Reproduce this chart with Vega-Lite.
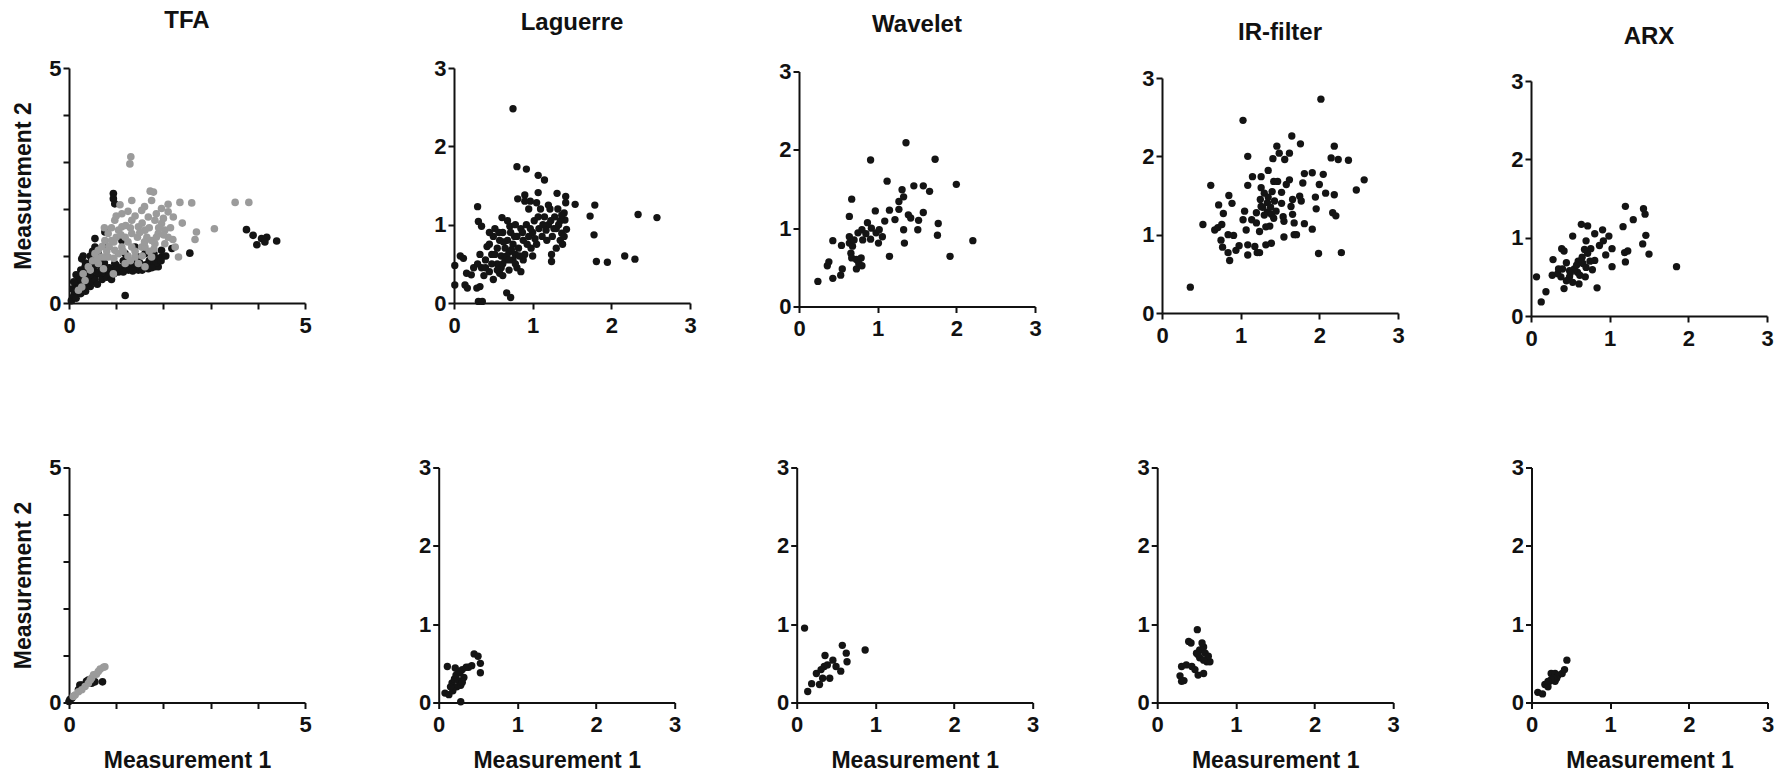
{
  "$schema": "https://vega.github.io/schema/vega-lite/v6.json",
  "background": "white",
  "padding": {"left": 12, "top": 8, "right": 5, "bottom": 5},
  "config": {
    "view": {"stroke": null},
    "font": "Liberation Sans",
    "axis": {"grid": false, "domainColor": "#111111", "domainWidth": 2, "tickColor": "#111111", "tickWidth": 2, "tickSize": 6, "labelFont": "Liberation Sans", "labelFontSize": 22, "labelFontWeight": "bold", "labelColor": "#111111", "labelFlush": false, "labelOverlap": false, "titleFont": "Liberation Sans", "titleFontSize": 23, "titleFontWeight": "bold", "titleColor": "#111111"},
    "axisX": {"labelPadding": 6, "titlePadding": 14},
    "axisY": {"labelPadding": 2, "titlePadding": 13},
    "title": {"font": "Liberation Sans", "fontSize": 24, "fontWeight": "bold", "color": "#111111", "frame": "group", "anchor": "middle", "offset": 24.5, "baseline": "alphabetic"}
  },
  "datasets": {
    "pts": [
      {"p":"T1","g":"a","x":3.76,"y":1.56},{"p":"T1","g":"a","x":3.9,"y":1.44},{"p":"T1","g":"a","x":3.98,"y":1.24},{"p":"T1","g":"a","x":4.08,"y":1.37},{"p":"T1","g":"a","x":4.19,"y":1.4},{"p":"T1","g":"a","x":4.4,"y":1.32},{"p":"T1","g":"a","x":4.15,"y":1.3},
      {"p":"T1","g":"a","x":2.56,"y":1.06},{"p":"T1","g":"a","x":1.19,"y":0.16},{"p":"T1","g":"a","x":0.94,"y":2.33},{"p":"T1","g":"a","x":0.94,"y":2.22},{"p":"T1","g":"a","x":0.97,"y":2.11},{"p":"T1","g":"a","x":0.76,"y":1.51},{"p":"T1","g":"a","x":0.55,"y":1.37},{"p":"T1","g":"a","x":0.27,"y":0.94},{"p":"T1","g":"a","x":0.55,"y":1.19},{"p":"T1","g":"a","x":2.18,"y":1.16},
      {"p":"T1","g":"a","x":0.13,"y":0.2},{"p":"T1","g":"a","x":0.2,"y":0.34},{"p":"T1","g":"a","x":0.34,"y":0.48},{"p":"T1","g":"a","x":0.48,"y":0.55},{"p":"T1","g":"a","x":0.62,"y":0.62},{"p":"T1","g":"a","x":0.83,"y":0.62},{"p":"T1","g":"a","x":1.05,"y":0.66},{"p":"T1","g":"a","x":1.26,"y":0.7},{"p":"T1","g":"a","x":1.47,"y":0.7},{"p":"T1","g":"a","x":1.68,"y":0.73},{"p":"T1","g":"a","x":1.82,"y":0.77},{"p":"T1","g":"a","x":1.96,"y":0.98},{"p":"T1","g":"a","x":1.96,"y":1.12},{"p":"T1","g":"a","x":1.89,"y":0.77},
      {"p":"T1","g":"a","x":0.2,"y":0.55},{"p":"T1","g":"a","x":0.34,"y":0.77},{"p":"T1","g":"a","x":0.48,"y":0.91},{"p":"T1","g":"a","x":0.62,"y":1.05},{"p":"T1","g":"a","x":0.83,"y":1.19},{"p":"T1","g":"a","x":0.69,"y":0.77},{"p":"T1","g":"a","x":0.97,"y":0.84},{"p":"T1","g":"a","x":1.19,"y":1.05},{"p":"T1","g":"a","x":1.47,"y":0.98},{"p":"T1","g":"a","x":1.61,"y":1.05},{"p":"T1","g":"a","x":1.4,"y":1.19},{"p":"T1","g":"a","x":1.12,"y":1.33},
      {"p":"T1","g":"a","x":0.05,"y":0.05},{"p":"T1","g":"a","x":0.1,"y":0.15},{"p":"T1","g":"a","x":0.15,"y":0.1},{"p":"T1","g":"a","x":0.25,"y":0.2},{"p":"T1","g":"a","x":0.3,"y":0.3},{"p":"T1","g":"a","x":0.35,"y":0.25},{"p":"T1","g":"a","x":0.4,"y":0.4},{"p":"T1","g":"a","x":0.45,"y":0.35},{"p":"T1","g":"a","x":0.5,"y":0.45},{"p":"T1","g":"a","x":0.55,"y":0.5},{"p":"T1","g":"a","x":0.6,"y":0.4},{"p":"T1","g":"a","x":0.7,"y":0.5},{"p":"T1","g":"a","x":0.8,"y":0.55},{"p":"T1","g":"a","x":0.9,"y":0.5},{"p":"T1","g":"a","x":0.15,"y":0.35},{"p":"T1","g":"a","x":0.2,"y":0.45},{"p":"T1","g":"a","x":0.3,"y":0.6},{"p":"T1","g":"a","x":0.4,"y":0.65},{"p":"T1","g":"a","x":0.5,"y":0.7},{"p":"T1","g":"a","x":0.65,"y":0.8},{"p":"T1","g":"a","x":0.75,"y":0.85},{"p":"T1","g":"a","x":0.1,"y":0.45},{"p":"T1","g":"a","x":0.25,"y":0.5},{"p":"T1","g":"a","x":0.45,"y":0.6},{"p":"T1","g":"a","x":0.6,"y":0.65},{"p":"T1","g":"a","x":1.0,"y":0.8},{"p":"T1","g":"a","x":1.1,"y":0.75},{"p":"T1","g":"a","x":1.2,"y":0.8},{"p":"T1","g":"a","x":1.35,"y":0.85},{"p":"T1","g":"a","x":1.5,"y":0.85},{"p":"T1","g":"a","x":1.7,"y":0.9},{"p":"T1","g":"a","x":1.85,"y":0.95},{"p":"T1","g":"a","x":0.08,"y":0.3},{"p":"T1","g":"a","x":0.18,"y":0.25},{"p":"T1","g":"a","x":0.28,"y":0.4},{"p":"T1","g":"a","x":0.38,"y":0.55},{"p":"T1","g":"a","x":0.7,"y":0.65},{"p":"T1","g":"a","x":0.9,"y":0.7},{"p":"T1","g":"a","x":1.15,"y":0.9},{"p":"T1","g":"a","x":1.3,"y":0.78},{"p":"T1","g":"a","x":1.6,"y":0.8},{"p":"T1","g":"a","x":1.75,"y":0.85},{"p":"T1","g":"a","x":0.35,"y":0.85},{"p":"T1","g":"a","x":0.45,"y":1.0},{"p":"T1","g":"a","x":0.3,"y":1.0},{"p":"T1","g":"a","x":0.6,"y":1.15},{"p":"T1","g":"a","x":1.8,"y":1.05},{"p":"T1","g":"a","x":2.05,"y":1.0},
      {"p":"T1","g":"a","x":0.25,"y":0.7},{"p":"T1","g":"a","x":0.4,"y":0.8},{"p":"T1","g":"a","x":0.55,"y":0.8},{"p":"T1","g":"a","x":0.15,"y":0.6},{"p":"T1","g":"a","x":0.5,"y":1.1},{"p":"T1","g":"a","x":0.65,"y":0.9},{"p":"T1","g":"a","x":0.85,"y":0.75},{"p":"T1","g":"a","x":1.0,"y":0.7},{"p":"T1","g":"a","x":1.25,"y":0.75},{"p":"T1","g":"a","x":1.45,"y":0.78},{"p":"T1","g":"a","x":1.65,"y":0.82},{"p":"T1","g":"a","x":1.85,"y":0.85},{"p":"T1","g":"a","x":1.95,"y":0.9},{"p":"T1","g":"a","x":0.12,"y":0.25},{"p":"T1","g":"a","x":0.95,"y":0.62},{"p":"T1","g":"a","x":1.15,"y":0.66},{"p":"T1","g":"a","x":1.35,"y":0.68},{"p":"T1","g":"a","x":1.55,"y":0.7},{"p":"T1","g":"a","x":1.75,"y":0.75},
      {"p":"T1","g":"b","x":1.31,"y":3.11},{"p":"T1","g":"b","x":1.29,"y":2.96},{"p":"T1","g":"b","x":1.72,"y":2.38},{"p":"T1","g":"b","x":1.79,"y":2.36},{"p":"T1","g":"b","x":1.75,"y":2.18},{"p":"T1","g":"b","x":1.33,"y":2.18},{"p":"T1","g":"b","x":2.35,"y":2.14},{"p":"T1","g":"b","x":2.6,"y":2.13},{"p":"T1","g":"b","x":3.52,"y":2.14},{"p":"T1","g":"b","x":3.81,"y":2.14},{"p":"T1","g":"b","x":3.08,"y":1.58},{"p":"T1","g":"b","x":2.7,"y":1.51},{"p":"T1","g":"b","x":2.67,"y":1.35},{"p":"T1","g":"b","x":2.25,"y":1.19},{"p":"T1","g":"b","x":2.32,"y":0.98},{"p":"T1","g":"b","x":1.08,"y":2.09},{"p":"T1","g":"b","x":1.12,"y":1.9},{"p":"T1","g":"b","x":1.54,"y":1.97},{"p":"T1","g":"b","x":1.96,"y":2.01},{"p":"T1","g":"b","x":2.1,"y":1.94},{"p":"T1","g":"b","x":2.21,"y":1.83},{"p":"T1","g":"b","x":0.97,"y":1.76},{"p":"T1","g":"b","x":1.33,"y":1.76},{"p":"T1","g":"b","x":1.68,"y":1.83},{"p":"T1","g":"b","x":1.82,"y":1.76},{"p":"T1","g":"b","x":1.96,"y":1.69},
      {"p":"T1","g":"b","x":0.76,"y":1.33},{"p":"T1","g":"b","x":0.83,"y":1.48},{"p":"T1","g":"b","x":1.05,"y":1.55},{"p":"T1","g":"b","x":1.33,"y":1.48},{"p":"T1","g":"b","x":1.61,"y":1.55},{"p":"T1","g":"b","x":1.89,"y":1.48},{"p":"T1","g":"b","x":2.03,"y":1.55},{"p":"T1","g":"b","x":2.1,"y":1.4},{"p":"T1","g":"b","x":2.03,"y":1.26},{"p":"T1","g":"b","x":1.82,"y":1.26},{"p":"T1","g":"b","x":1.54,"y":1.19},{"p":"T1","g":"b","x":1.33,"y":1.19},{"p":"T1","g":"b","x":1.12,"y":1.19},{"p":"T1","g":"b","x":0.9,"y":1.33},{"p":"T1","g":"b","x":0.97,"y":1.12},{"p":"T1","g":"b","x":0.76,"y":0.98},{"p":"T1","g":"b","x":0.55,"y":1.05},{"p":"T1","g":"b","x":0.62,"y":0.84},{"p":"T1","g":"b","x":0.73,"y":0.73},{"p":"T1","g":"b","x":0.94,"y":0.62},{"p":"T1","g":"b","x":1.19,"y":0.84},{"p":"T1","g":"b","x":1.47,"y":0.84},{"p":"T1","g":"b","x":1.61,"y":0.77},{"p":"T1","g":"b","x":1.75,"y":0.98},{"p":"T1","g":"b","x":1.4,"y":0.98},{"p":"T1","g":"b","x":1.61,"y":1.19},{"p":"T1","g":"b","x":1.75,"y":1.33},{"p":"T1","g":"b","x":1.19,"y":1.4},{"p":"T1","g":"b","x":1.05,"y":1.05},{"p":"T1","g":"b","x":0.83,"y":0.98},
      {"p":"T1","g":"b","x":0.27,"y":0.34},{"p":"T1","g":"b","x":0.34,"y":0.48},{"p":"T1","g":"b","x":0.2,"y":0.27},{"p":"T1","g":"b","x":0.69,"y":0.98},{"p":"T1","g":"b","x":0.41,"y":0.77},{"p":"T1","g":"b","x":0.3,"y":0.62},{"p":"T1","g":"b","x":0.62,"y":1.12},{"p":"T1","g":"b","x":1.12,"y":1.62},{"p":"T1","g":"b","x":1.47,"y":1.62},{"p":"T1","g":"b","x":1.25,"y":1.3},{"p":"T1","g":"b","x":1.45,"y":1.4},{"p":"T1","g":"b","x":1.65,"y":1.4},{"p":"T1","g":"b","x":1.0,"y":1.4},{"p":"T1","g":"b","x":1.2,"y":1.65},{"p":"T1","g":"b","x":1.55,"y":1.7},{"p":"T1","g":"b","x":1.9,"y":1.6},{"p":"T1","g":"b","x":2.0,"y":1.8},{"p":"T1","g":"b","x":1.4,"y":1.85},{"p":"T1","g":"b","x":0.9,"y":1.6},{"p":"T1","g":"b","x":1.7,"y":1.1},{"p":"T1","g":"b","x":1.25,"y":1.0},{"p":"T1","g":"b","x":0.85,"y":1.2},
      {"p":"T1","g":"b","x":0.7,"y":1.2},{"p":"T1","g":"b","x":0.8,"y":1.1},{"p":"T1","g":"b","x":0.95,"y":1.3},{"p":"T1","g":"b","x":1.1,"y":1.45},{"p":"T1","g":"b","x":1.3,"y":1.6},{"p":"T1","g":"b","x":1.5,"y":1.5},{"p":"T1","g":"b","x":1.7,"y":1.6},{"p":"T1","g":"b","x":1.85,"y":1.4},{"p":"T1","g":"b","x":2.0,"y":1.45},{"p":"T1","g":"b","x":2.15,"y":1.6},{"p":"T1","g":"b","x":1.6,"y":1.3},{"p":"T1","g":"b","x":1.4,"y":1.1},{"p":"T1","g":"b","x":1.15,"y":1.1},{"p":"T1","g":"b","x":0.95,"y":0.95},{"p":"T1","g":"b","x":1.3,"y":0.9},{"p":"T1","g":"b","x":1.55,"y":1.0},{"p":"T1","g":"b","x":1.8,"y":1.15},{"p":"T1","g":"b","x":2.2,"y":1.35},{"p":"T1","g":"b","x":1.0,"y":1.85},{"p":"T1","g":"b","x":1.25,"y":1.95},{"p":"T1","g":"b","x":1.6,"y":2.05},{"p":"T1","g":"b","x":1.85,"y":1.9},{"p":"T1","g":"b","x":0.75,"y":1.6},{"p":"T1","g":"b","x":0.5,"y":0.9},{"p":"T1","g":"b","x":0.45,"y":0.7},{"p":"T1","g":"b","x":0.6,"y":0.95},{"p":"T1","g":"b","x":2.4,"y":1.7},{"p":"T1","g":"b","x":2.1,"y":2.1},

      {"p":"T2","g":"a","x":0.0,"y":0.02},{"p":"T2","g":"a","x":0.06,"y":0.09},{"p":"T2","g":"a","x":0.2,"y":0.27},{"p":"T2","g":"a","x":0.27,"y":0.37},{"p":"T2","g":"a","x":0.37,"y":0.45},{"p":"T2","g":"a","x":0.55,"y":0.44},{"p":"T2","g":"a","x":0.71,"y":0.44},{"p":"T2","g":"a","x":0.48,"y":0.41},{"p":"T2","g":"a","x":0.23,"y":0.37},{"p":"T2","g":"a","x":0.41,"y":0.48},{"p":"T2","g":"a","x":0.02,"y":0.06},
      {"p":"T2","g":"b","x":0.09,"y":0.13},{"p":"T2","g":"b","x":0.13,"y":0.16},{"p":"T2","g":"b","x":0.2,"y":0.23},{"p":"T2","g":"b","x":0.27,"y":0.27},{"p":"T2","g":"b","x":0.34,"y":0.34},{"p":"T2","g":"b","x":0.41,"y":0.41},{"p":"T2","g":"b","x":0.48,"y":0.52},{"p":"T2","g":"b","x":0.52,"y":0.59},{"p":"T2","g":"b","x":0.62,"y":0.66},{"p":"T2","g":"b","x":0.66,"y":0.71},{"p":"T2","g":"b","x":0.73,"y":0.75},{"p":"T2","g":"b","x":0.76,"y":0.76},{"p":"T2","g":"b","x":0.58,"y":0.6},{"p":"T2","g":"b","x":0.45,"y":0.48},

      {"p":"L1","x":0.75,"y":2.48},{"p":"L1","x":0.8,"y":1.74},{"p":"L1","x":0.92,"y":1.71},{"p":"L1","x":1.07,"y":1.63},{"p":"L1","x":1.15,"y":1.57},{"p":"L1","x":0.3,"y":1.23},{"p":"L1","x":1.54,"y":1.26},{"p":"L1","x":1.79,"y":1.25},{"p":"L1","x":1.31,"y":1.4},{"p":"L1","x":1.42,"y":1.36},{"p":"L1","x":1.07,"y":1.41},{"p":"L1","x":0.81,"y":1.33},{"p":"L1","x":0.9,"y":1.38},{"p":"L1","x":0.97,"y":1.3},{"p":"L1","x":1.73,"y":1.11},{"p":"L1","x":1.78,"y":0.87},{"p":"L1","x":1.81,"y":0.53},{"p":"L1","x":1.95,"y":0.52},{"p":"L1","x":2.34,"y":1.13},{"p":"L1","x":2.58,"y":1.09},{"p":"L1","x":2.17,"y":0.6},{"p":"L1","x":2.3,"y":0.56},{"p":"L1","x":0.01,"y":0.48},{"p":"L1","x":0.01,"y":0.23},{"p":"L1","x":0.08,"y":0.6},{"p":"L1","x":0.12,"y":0.57},{"p":"L1","x":0.16,"y":0.38},{"p":"L1","x":0.22,"y":0.36},{"p":"L1","x":0.14,"y":0.23},{"p":"L1","x":0.17,"y":0.19},{"p":"L1","x":0.31,"y":0.02},{"p":"L1","x":0.36,"y":0.02},{"p":"L1","x":0.33,"y":0.21},{"p":"L1","x":0.29,"y":0.19},{"p":"L1","x":0.67,"y":0.13},{"p":"L1","x":0.72,"y":0.07},{"p":"L1","x":0.31,"y":1.04},{"p":"L1","x":0.35,"y":0.98},{"p":"L1","x":0.61,"y":1.09},{"p":"L1","x":0.71,"y":0.98},{"p":"L1","x":1.24,"y":0.62},{"p":"L1","x":1.24,"y":0.53},{"p":"L1","x":1.37,"y":0.89},{"p":"L1","x":1.43,"y":0.94},{"p":"L1","x":1.41,"y":1.06},
      {"p":"L1","x":0.35,"y":0.45},{"p":"L1","x":0.4,"y":0.55},{"p":"L1","x":0.42,"y":0.72},{"p":"L1","x":0.45,"y":0.4},{"p":"L1","x":0.48,"y":0.62},{"p":"L1","x":0.5,"y":0.85},{"p":"L1","x":0.52,"y":0.95},{"p":"L1","x":0.55,"y":0.5},{"p":"L1","x":0.55,"y":0.7},{"p":"L1","x":0.58,"y":0.8},{"p":"L1","x":0.6,"y":0.6},{"p":"L1","x":0.6,"y":0.45},{"p":"L1","x":0.62,"y":0.9},{"p":"L1","x":0.65,"y":0.7},{"p":"L1","x":0.65,"y":0.55},{"p":"L1","x":0.68,"y":0.8},{"p":"L1","x":0.7,"y":0.65},{"p":"L1","x":0.7,"y":0.42},{"p":"L1","x":0.72,"y":0.9},{"p":"L1","x":0.75,"y":0.75},{"p":"L1","x":0.75,"y":0.55},{"p":"L1","x":0.78,"y":0.62},{"p":"L1","x":0.8,"y":0.45},{"p":"L1","x":0.8,"y":0.85},{"p":"L1","x":0.82,"y":0.7},{"p":"L1","x":0.85,"y":0.95},{"p":"L1","x":0.88,"y":0.8},{"p":"L1","x":0.9,"y":0.62},{"p":"L1","x":0.92,"y":1.0},{"p":"L1","x":0.95,"y":0.85},{"p":"L1","x":0.98,"y":0.7},{"p":"L1","x":1.0,"y":0.9},{"p":"L1","x":1.02,"y":1.05},{"p":"L1","x":1.05,"y":0.75},{"p":"L1","x":1.08,"y":0.95},{"p":"L1","x":1.1,"y":1.2},{"p":"L1","x":1.12,"y":0.85},{"p":"L1","x":1.15,"y":1.1},{"p":"L1","x":1.18,"y":0.8},{"p":"L1","x":1.2,"y":1.0},{"p":"L1","x":1.22,"y":1.2},{"p":"L1","x":1.25,"y":0.85},{"p":"L1","x":1.28,"y":1.1},{"p":"L1","x":1.3,"y":0.95},{"p":"L1","x":1.32,"y":1.2},{"p":"L1","x":1.35,"y":1.05},{"p":"L1","x":1.38,"y":0.75},{"p":"L1","x":1.4,"y":1.15},{"p":"L1","x":1.42,"y":1.28},{"p":"L1","x":1.2,"y":1.25},{"p":"L1","x":0.45,"y":0.9},{"p":"L1","x":0.5,"y":0.3},{"p":"L1","x":0.38,"y":0.35},{"p":"L1","x":0.25,"y":0.45},{"p":"L1","x":0.3,"y":0.5},{"p":"L1","x":0.33,"y":0.62},{"p":"L1","x":0.58,"y":0.38},{"p":"L1","x":0.62,"y":0.35},{"p":"L1","x":0.85,"y":0.4},{"p":"L1","x":0.88,"y":0.55},{"p":"L1","x":1.0,"y":0.6},{"p":"L1","x":0.95,"y":1.2},{"p":"L1","x":0.9,"y":1.3},{"p":"L1","x":1.05,"y":1.28},{"p":"L1","x":0.68,"y":1.05},{"p":"L1","x":0.78,"y":1.0},{"p":"L1","x":1.35,"y":0.8},{"p":"L1","x":1.3,"y":0.7},
      {"p":"L1","x":0.45,"y":0.75},{"p":"L1","x":0.52,"y":0.62},{"p":"L1","x":0.57,"y":0.9},{"p":"L1","x":0.63,"y":0.78},{"p":"L1","x":0.67,"y":0.6},{"p":"L1","x":0.73,"y":0.68},{"p":"L1","x":0.77,"y":0.85},{"p":"L1","x":0.83,"y":0.6},{"p":"L1","x":0.87,"y":0.9},{"p":"L1","x":0.93,"y":0.75},{"p":"L1","x":0.97,"y":0.95},{"p":"L1","x":1.03,"y":0.82},{"p":"L1","x":1.07,"y":1.1},{"p":"L1","x":1.13,"y":1.0},{"p":"L1","x":1.17,"y":0.93},{"p":"L1","x":1.23,"y":1.05},{"p":"L1","x":1.27,"y":0.95},{"p":"L1","x":1.33,"y":1.0},{"p":"L1","x":1.37,"y":1.12},{"p":"L1","x":1.4,"y":0.85},{"p":"L1","x":0.4,"y":0.45},{"p":"L1","x":0.48,"y":0.5},{"p":"L1","x":0.55,"y":0.42},{"p":"L1","x":0.62,"y":0.5},{"p":"L1","x":0.7,"y":0.55},{"p":"L1","x":0.78,"y":0.5},

      {"p":"L2","x":0.11,"y":0.46},{"p":"L2","x":0.21,"y":0.44},{"p":"L2","x":0.28,"y":0.01},{"p":"L2","x":0.45,"y":0.62},{"p":"L2","x":0.5,"y":0.59},{"p":"L2","x":0.53,"y":0.38},{"p":"L2","x":0.53,"y":0.5},{"p":"L2","x":0.08,"y":0.12},{"p":"L2","x":0.13,"y":0.1},{"p":"L2","x":0.17,"y":0.25},{"p":"L2","x":0.2,"y":0.3},{"p":"L2","x":0.22,"y":0.35},{"p":"L2","x":0.25,"y":0.28},{"p":"L2","x":0.27,"y":0.38},{"p":"L2","x":0.3,"y":0.42},{"p":"L2","x":0.23,"y":0.2},{"p":"L2","x":0.18,"y":0.15},{"p":"L2","x":0.28,"y":0.22},{"p":"L2","x":0.32,"y":0.32},{"p":"L2","x":0.35,"y":0.45},{"p":"L2","x":0.38,"y":0.45},{"p":"L2","x":0.42,"y":0.47},{"p":"L2","x":0.25,"y":0.4},{"p":"L2","x":0.15,"y":0.2},{"p":"L2","x":0.3,"y":0.26},

      {"p":"W1","x":0.24,"y":0.32},{"p":"W1","x":0.36,"y":0.52},{"p":"W1","x":0.38,"y":0.57},{"p":"W1","x":0.43,"y":0.36},{"p":"W1","x":0.43,"y":0.84},{"p":"W1","x":0.53,"y":0.4},{"p":"W1","x":0.55,"y":0.48},{"p":"W1","x":0.54,"y":0.78},{"p":"W1","x":0.64,"y":1.15},{"p":"W1","x":0.67,"y":1.37},{"p":"W1","x":0.64,"y":0.89},{"p":"W1","x":0.64,"y":0.81},{"p":"W1","x":0.68,"y":0.77},{"p":"W1","x":0.7,"y":0.85},{"p":"W1","x":0.66,"y":0.68},{"p":"W1","x":0.67,"y":0.62},{"p":"W1","x":0.73,"y":0.6},{"p":"W1","x":0.73,"y":0.48},{"p":"W1","x":0.76,"y":0.55},{"p":"W1","x":0.8,"y":0.52},{"p":"W1","x":0.79,"y":0.62},{"p":"W1","x":0.75,"y":0.94},{"p":"W1","x":0.8,"y":0.98},{"p":"W1","x":0.81,"y":0.85},{"p":"W1","x":0.85,"y":0.93},{"p":"W1","x":0.87,"y":1.07},{"p":"W1","x":0.91,"y":0.86},{"p":"W1","x":0.92,"y":1.0},{"p":"W1","x":0.91,"y":1.87},{"p":"W1","x":0.97,"y":1.22},{"p":"W1","x":0.98,"y":0.94},{"p":"W1","x":1.02,"y":0.98},{"p":"W1","x":1.01,"y":0.81},{"p":"W1","x":1.06,"y":0.89},{"p":"W1","x":1.09,"y":1.09},{"p":"W1","x":1.12,"y":1.6},{"p":"W1","x":1.15,"y":1.23},{"p":"W1","x":1.15,"y":0.64},{"p":"W1","x":1.22,"y":1.11},{"p":"W1","x":1.27,"y":1.24},{"p":"W1","x":1.27,"y":1.34},{"p":"W1","x":1.31,"y":1.49},{"p":"W1","x":1.33,"y":1.4},{"p":"W1","x":1.33,"y":0.98},{"p":"W1","x":1.34,"y":0.81},{"p":"W1","x":1.36,"y":2.09},{"p":"W1","x":1.39,"y":1.17},{"p":"W1","x":1.42,"y":1.13},{"p":"W1","x":1.46,"y":1.54},{"p":"W1","x":1.51,"y":0.98},{"p":"W1","x":1.52,"y":1.1},{"p":"W1","x":1.58,"y":1.2},{"p":"W1","x":1.58,"y":1.54},{"p":"W1","x":1.66,"y":1.47},{"p":"W1","x":1.73,"y":1.88},{"p":"W1","x":1.76,"y":0.91},{"p":"W1","x":1.77,"y":1.06},{"p":"W1","x":1.92,"y":0.64},{"p":"W1","x":2.0,"y":1.56},{"p":"W1","x":2.21,"y":0.84},

      {"p":"W2","x":0.1,"y":0.95},{"p":"W2","x":0.14,"y":0.14},{"p":"W2","x":0.19,"y":0.24},{"p":"W2","x":0.25,"y":0.37},{"p":"W2","x":0.29,"y":0.23},{"p":"W2","x":0.33,"y":0.31},{"p":"W2","x":0.36,"y":0.6},{"p":"W2","x":0.35,"y":0.46},{"p":"W2","x":0.39,"y":0.48},{"p":"W2","x":0.42,"y":0.31},{"p":"W2","x":0.46,"y":0.54},{"p":"W2","x":0.5,"y":0.46},{"p":"W2","x":0.58,"y":0.73},{"p":"W2","x":0.56,"y":0.4},{"p":"W2","x":0.63,"y":0.63},{"p":"W2","x":0.64,"y":0.52},{"p":"W2","x":0.87,"y":0.67},{"p":"W2","x":0.31,"y":0.42},

      {"p":"I1","x":0.36,"y":0.33},{"p":"I1","x":0.52,"y":1.13},{"p":"I1","x":0.62,"y":1.63},{"p":"I1","x":0.67,"y":1.06},{"p":"I1","x":0.71,"y":1.09},{"p":"I1","x":0.76,"y":1.13},{"p":"I1","x":0.72,"y":1.38},{"p":"I1","x":0.78,"y":1.27},{"p":"I1","x":0.75,"y":0.93},{"p":"I1","x":0.77,"y":0.84},{"p":"I1","x":0.84,"y":1.0},{"p":"I1","x":0.91,"y":0.99},{"p":"I1","x":0.85,"y":1.5},{"p":"I1","x":0.89,"y":1.4},{"p":"I1","x":0.84,"y":0.77},{"p":"I1","x":0.86,"y":0.67},{"p":"I1","x":0.94,"y":0.8},{"p":"I1","x":0.98,"y":0.86},{"p":"I1","x":1.03,"y":2.46},{"p":"I1","x":1.09,"y":2.0},{"p":"I1","x":1.05,"y":1.3},{"p":"I1","x":1.03,"y":1.19},{"p":"I1","x":1.07,"y":1.06},{"p":"I1","x":1.09,"y":0.74},{"p":"I1","x":1.09,"y":0.87},{"p":"I1","x":1.18,"y":0.85},{"p":"I1","x":1.21,"y":0.77},{"p":"I1","x":1.24,"y":0.77},{"p":"I1","x":1.09,"y":1.63},{"p":"I1","x":1.15,"y":1.74},{"p":"I1","x":1.26,"y":1.74},{"p":"I1","x":1.14,"y":1.19},{"p":"I1","x":1.2,"y":1.28},{"p":"I1","x":1.24,"y":1.04},{"p":"I1","x":1.26,"y":1.36},{"p":"I1","x":1.26,"y":1.6},{"p":"I1","x":1.3,"y":1.53},{"p":"I1","x":1.35,"y":1.82},{"p":"I1","x":1.34,"y":1.41},{"p":"I1","x":1.34,"y":1.29},{"p":"I1","x":1.39,"y":1.26},{"p":"I1","x":1.37,"y":1.11},{"p":"I1","x":1.32,"y":0.87},{"p":"I1","x":1.39,"y":0.89},{"p":"I1","x":1.41,"y":1.97},{"p":"I1","x":1.46,"y":2.13},{"p":"I1","x":1.49,"y":2.04},{"p":"I1","x":1.56,"y":1.96},{"p":"I1","x":1.42,"y":1.68},{"p":"I1","x":1.43,"y":1.43},{"p":"I1","x":1.47,"y":1.68},{"p":"I1","x":1.52,"y":1.54},{"p":"I1","x":1.52,"y":1.4},{"p":"I1","x":1.54,"y":1.23},{"p":"I1","x":1.55,"y":1.17},{"p":"I1","x":1.55,"y":0.97},{"p":"I1","x":1.58,"y":1.64},{"p":"I1","x":1.62,"y":2.04},{"p":"I1","x":1.62,"y":1.7},{"p":"I1","x":1.65,"y":2.26},{"p":"I1","x":1.64,"y":1.36},{"p":"I1","x":1.66,"y":1.45},{"p":"I1","x":1.68,"y":1.0},{"p":"I1","x":1.71,"y":1.0},{"p":"I1","x":1.66,"y":1.26},{"p":"I1","x":1.68,"y":1.15},{"p":"I1","x":1.76,"y":2.16},{"p":"I1","x":1.75,"y":1.49},{"p":"I1","x":1.77,"y":1.43},{"p":"I1","x":1.81,"y":1.78},{"p":"I1","x":1.79,"y":1.66},{"p":"I1","x":1.81,"y":1.14},{"p":"I1","x":1.91,"y":1.79},{"p":"I1","x":1.95,"y":1.48},{"p":"I1","x":1.91,"y":1.07},{"p":"I1","x":1.96,"y":1.33},{"p":"I1","x":2.0,"y":1.64},{"p":"I1","x":1.99,"y":0.76},{"p":"I1","x":2.02,"y":2.73},{"p":"I1","x":2.05,"y":1.77},{"p":"I1","x":2.08,"y":1.53},{"p":"I1","x":2.15,"y":1.98},{"p":"I1","x":2.19,"y":2.13},{"p":"I1","x":2.24,"y":1.96},{"p":"I1","x":2.19,"y":1.51},{"p":"I1","x":2.17,"y":1.28},{"p":"I1","x":2.21,"y":1.24},{"p":"I1","x":2.28,"y":0.77},{"p":"I1","x":2.37,"y":1.95},{"p":"I1","x":2.47,"y":1.57},{"p":"I1","x":2.57,"y":1.7},{"p":"I1","x":1.25,"y":1.45},{"p":"I1","x":1.3,"y":1.25},{"p":"I1","x":1.38,"y":1.35},{"p":"I1","x":1.4,"y":1.55},{"p":"I1","x":1.2,"y":1.15},{"p":"I1","x":1.32,"y":1.1},{"p":"I1","x":1.45,"y":1.3},{"p":"I1","x":1.35,"y":1.48},{"p":"I1","x":1.28,"y":1.35},{"p":"I1","x":1.42,"y":1.21},

      {"p":"I2","x":0.51,"y":0.93},{"p":"I2","x":0.4,"y":0.78},{"p":"I2","x":0.43,"y":0.76},{"p":"I2","x":0.29,"y":0.34},{"p":"I2","x":0.31,"y":0.27},{"p":"I2","x":0.34,"y":0.28},{"p":"I2","x":0.31,"y":0.46},{"p":"I2","x":0.37,"y":0.48},{"p":"I2","x":0.44,"y":0.46},{"p":"I2","x":0.48,"y":0.42},{"p":"I2","x":0.52,"y":0.35},{"p":"I2","x":0.59,"y":0.37},{"p":"I2","x":0.5,"y":0.63},{"p":"I2","x":0.54,"y":0.67},{"p":"I2","x":0.59,"y":0.71},{"p":"I2","x":0.61,"y":0.63},{"p":"I2","x":0.54,"y":0.57},{"p":"I2","x":0.63,"y":0.52},{"p":"I2","x":0.67,"y":0.52},{"p":"I2","x":0.65,"y":0.59},{"p":"I2","x":0.52,"y":0.61},{"p":"I2","x":0.59,"y":0.54},{"p":"I2","x":0.57,"y":0.76},

      {"p":"A1","x":0.07,"y":0.5},{"p":"A1","x":0.13,"y":0.18},{"p":"A1","x":0.19,"y":0.31},{"p":"A1","x":0.28,"y":0.72},{"p":"A1","x":0.27,"y":0.52},{"p":"A1","x":0.39,"y":0.86},{"p":"A1","x":0.42,"y":0.83},{"p":"A1","x":0.53,"y":1.02},{"p":"A1","x":0.42,"y":0.35},{"p":"A1","x":0.38,"y":0.5},{"p":"A1","x":0.34,"y":0.54},{"p":"A1","x":0.45,"y":0.68},{"p":"A1","x":0.49,"y":0.5},{"p":"A1","x":0.49,"y":0.58},{"p":"A1","x":0.53,"y":0.43},{"p":"A1","x":0.61,"y":0.41},{"p":"A1","x":0.59,"y":0.56},{"p":"A1","x":0.66,"y":0.67},{"p":"A1","x":0.64,"y":1.17},{"p":"A1","x":0.72,"y":1.15},{"p":"A1","x":0.7,"y":0.96},{"p":"A1","x":0.72,"y":0.8},{"p":"A1","x":0.76,"y":0.86},{"p":"A1","x":0.81,"y":1.05},{"p":"A1","x":0.69,"y":0.5},{"p":"A1","x":0.78,"y":0.59},{"p":"A1","x":0.81,"y":0.71},{"p":"A1","x":0.84,"y":0.36},{"p":"A1","x":0.87,"y":0.9},{"p":"A1","x":0.91,"y":1.1},{"p":"A1","x":0.92,"y":0.96},{"p":"A1","x":0.95,"y":0.78},{"p":"A1","x":0.99,"y":1.02},{"p":"A1","x":1.03,"y":0.86},{"p":"A1","x":1.03,"y":0.63},{"p":"A1","x":1.17,"y":1.14},{"p":"A1","x":1.2,"y":1.4},{"p":"A1","x":1.19,"y":0.81},{"p":"A1","x":1.23,"y":0.83},{"p":"A1","x":1.2,"y":0.69},{"p":"A1","x":1.3,"y":1.23},{"p":"A1","x":1.42,"y":0.92},{"p":"A1","x":1.43,"y":1.37},{"p":"A1","x":1.45,"y":1.3},{"p":"A1","x":1.46,"y":1.03},{"p":"A1","x":1.5,"y":0.79},{"p":"A1","x":1.85,"y":0.63},{"p":"A1","x":0.55,"y":0.6},{"p":"A1","x":0.6,"y":0.7},{"p":"A1","x":0.65,"y":0.75},{"p":"A1","x":0.7,"y":0.62},{"p":"A1","x":0.5,"y":0.55},{"p":"A1","x":0.45,"y":0.45},{"p":"A1","x":0.62,"y":0.52},{"p":"A1","x":0.75,"y":0.7},{"p":"A1","x":0.68,"y":0.85},{"p":"A1","x":0.58,"y":0.65},{"p":"A1","x":0.4,"y":0.6},{"p":"A1","x":0.35,"y":0.6},

      {"p":"A2","x":0.08,"y":0.13},{"p":"A2","x":0.14,"y":0.11},{"p":"A2","x":0.17,"y":0.23},{"p":"A2","x":0.21,"y":0.2},{"p":"A2","x":0.23,"y":0.27},{"p":"A2","x":0.25,"y":0.37},{"p":"A2","x":0.3,"y":0.37},{"p":"A2","x":0.3,"y":0.27},{"p":"A2","x":0.32,"y":0.31},{"p":"A2","x":0.34,"y":0.35},{"p":"A2","x":0.39,"y":0.37},{"p":"A2","x":0.42,"y":0.42},{"p":"A2","x":0.45,"y":0.54},{"p":"A2","x":0.28,"y":0.31},{"p":"A2","x":0.25,"y":0.29},{"p":"A2","x":0.21,"y":0.27}
    ]
  },
  "data": {"name": "pts"},
  "vconcat": [
    {
      "align": "none",
      "columns": 2,
      "spacing": 121,
      "concat": [
        {
          "width": 236, "height": 235,
          "title": {"text": "TFA"},
          "transform": [{"filter": "datum.p == 'T1'"}],
          "mark": {"type": "circle", "size": 58, "opacity": 1},
          "encoding": {
            "x": {"field": "x", "type": "quantitative", "scale": {"domain": [0, 5], "nice": false}, "axis": {"values": [0, 1, 2, 3, 4, 5], "labelExpr": "datum.value == 0 || datum.value == 5 ? datum.label : ''", "title": null}},
            "y": {"field": "y", "type": "quantitative", "scale": {"domain": [0, 5], "nice": false}, "axis": {"values": [0, 1, 2, 3, 4, 5], "labelExpr": "datum.value == 0 || datum.value == 5 ? datum.label : ''", "title": "Measurement 2"}},
            "color": {"field": "g", "type": "nominal", "scale": {"domain": ["a", "b"], "range": ["#141414", "#9b9b9b"]}, "legend": null}
          }
        },
        {
          "align": "none",
          "columns": 2,
          "spacing": 78,
          "concat": [
            {
              "width": 236, "height": 235,
              "title": {"text": "Laguerre", "dy": 2},
              "transform": [{"filter": "datum.p == 'L1'"}],
              "mark": {"type": "circle", "size": 54, "opacity": 1, "color": "#141414"},
              "encoding": {
                "x": {"field": "x", "type": "quantitative", "scale": {"domain": [0, 3], "nice": false}, "axis": {"values": [0, 1, 2, 3], "title": null}},
                "y": {"field": "y", "type": "quantitative", "scale": {"domain": [0, 3], "nice": false}, "axis": {"values": [0, 1, 2, 3], "title": null}}
              }
            },
            {
              "align": "none",
              "columns": 2,
              "spacing": 89,
              "concat": [
                {
                  "width": 236, "height": 235,
                  "title": {"text": "Wavelet", "dy": 4.5},
                  "transform": [{"filter": "datum.p == 'W1'"}],
                  "mark": {"type": "circle", "size": 54, "opacity": 1, "color": "#141414", "yOffset": 3.5},
                  "encoding": {
                    "x": {"field": "x", "type": "quantitative", "scale": {"domain": [0, 3], "nice": false}, "axis": {"values": [0, 1, 2, 3], "title": null, "offset": 3.5}},
                    "y": {"field": "y", "type": "quantitative", "scale": {"domain": [0, 3], "nice": false}, "axis": {"values": [0, 1, 2, 3], "title": null, "translate": 4, "offset": 3.5}}
                  }
                },
                {
                  "align": "none",
                  "columns": 2,
                  "spacing": 92,
                  "concat": [
                    {
                      "width": 236, "height": 235,
                      "title": {"text": "IR-filter", "dy": 12.5},
                      "transform": [{"filter": "datum.p == 'I1'"}],
                      "mark": {"type": "circle", "size": 54, "opacity": 1, "color": "#141414", "yOffset": 10},
                      "encoding": {
                        "x": {"field": "x", "type": "quantitative", "scale": {"domain": [0, 3], "nice": false}, "axis": {"values": [0, 1, 2, 3], "title": null, "offset": 10}},
                        "y": {"field": "y", "type": "quantitative", "scale": {"domain": [0, 3], "nice": false}, "axis": {"values": [0, 1, 2, 3], "title": null, "translate": 10.5, "offset": 10}}
                      }
                    },
                    {
                      "width": 236, "height": 235,
                      "title": {"text": "ARX", "dy": 16},
                      "transform": [{"filter": "datum.p == 'A1'"}],
                      "mark": {"type": "circle", "size": 54, "opacity": 1, "color": "#141414", "yOffset": 13},
                      "encoding": {
                        "x": {"field": "x", "type": "quantitative", "scale": {"domain": [0, 3], "nice": false}, "axis": {"values": [0, 1, 2, 3], "title": null, "offset": 13}},
                        "y": {"field": "y", "type": "quantitative", "scale": {"domain": [0, 3], "nice": false}, "axis": {"values": [0, 1, 2, 3], "title": null, "translate": 13.5, "offset": 13}}
                      }
                    }
                  ]
                }
              ]
            }
          ]
        }
      ]
    },
    {
      "spacing": 105.7,
      "hconcat": [
        {
          "width": 236, "height": 235,
          "transform": [{"filter": "datum.p == 'T2'"}],
          "mark": {"type": "circle", "size": 58, "opacity": 1},
          "encoding": {
            "x": {"field": "x", "type": "quantitative", "scale": {"domain": [0, 5], "nice": false}, "axis": {"values": [0, 1, 2, 3, 4, 5], "labelExpr": "datum.value == 0 || datum.value == 5 ? datum.label : ''", "title": "Measurement 1"}},
            "y": {"field": "y", "type": "quantitative", "scale": {"domain": [0, 5], "nice": false}, "axis": {"values": [0, 1, 2, 3, 4, 5], "labelExpr": "datum.value == 0 || datum.value == 5 ? datum.label : ''", "title": "Measurement 2"}},
            "color": {"field": "g", "type": "nominal", "scale": {"domain": ["a", "b"], "range": ["#141414", "#9b9b9b"]}, "legend": null}
          }
        },
        {
          "spacing": 94,
          "hconcat": [
            {
              "width": 236, "height": 235,
              "transform": [{"filter": "datum.p == 'L2'"}],
              "mark": {"type": "circle", "size": 54, "opacity": 1, "color": "#141414"},
              "encoding": {
                "x": {"field": "x", "type": "quantitative", "scale": {"domain": [0, 3], "nice": false}, "axis": {"values": [0, 1, 2, 3], "title": "Measurement 1"}},
                "y": {"field": "y", "type": "quantitative", "scale": {"domain": [0, 3], "nice": false}, "axis": {"values": [0, 1, 2, 3], "title": null}}
              }
            },
            {
              "spacing": 96.5,
              "hconcat": [
                {
                  "width": 236, "height": 235,
                  "transform": [{"filter": "datum.p == 'W2'"}],
                  "mark": {"type": "circle", "size": 54, "opacity": 1, "color": "#141414"},
                  "encoding": {
                    "x": {"field": "x", "type": "quantitative", "scale": {"domain": [0, 3], "nice": false}, "axis": {"values": [0, 1, 2, 3], "title": "Measurement 1"}},
                    "y": {"field": "y", "type": "quantitative", "scale": {"domain": [0, 3], "nice": false}, "axis": {"values": [0, 1, 2, 3], "title": null}}
                  }
                },
                {
                  "spacing": 110.3,
                  "hconcat": [
                    {
                      "width": 236, "height": 235,
                      "transform": [{"filter": "datum.p == 'I2'"}],
                      "mark": {"type": "circle", "size": 54, "opacity": 1, "color": "#141414"},
                      "encoding": {
                        "x": {"field": "x", "type": "quantitative", "scale": {"domain": [0, 3], "nice": false}, "axis": {"values": [0, 1, 2, 3], "title": "Measurement 1"}},
                        "y": {"field": "y", "type": "quantitative", "scale": {"domain": [0, 3], "nice": false}, "axis": {"values": [0, 1, 2, 3], "title": null}}
                      }
                    },
                    {
                      "width": 236, "height": 235,
                      "transform": [{"filter": "datum.p == 'A2'"}],
                      "mark": {"type": "circle", "size": 54, "opacity": 1, "color": "#141414"},
                      "encoding": {
                        "x": {"field": "x", "type": "quantitative", "scale": {"domain": [0, 3], "nice": false}, "axis": {"values": [0, 1, 2, 3], "title": "Measurement 1"}},
                        "y": {"field": "y", "type": "quantitative", "scale": {"domain": [0, 3], "nice": false}, "axis": {"values": [0, 1, 2, 3], "title": null}}
                      }
                    }
                  ]
                }
              ]
            }
          ]
        }
      ]
    }
  ],
  "spacing": 107.5
}
